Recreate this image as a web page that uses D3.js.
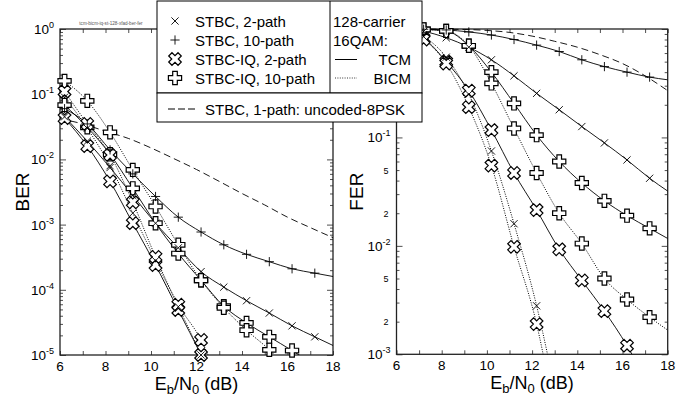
<!DOCTYPE html>
<html lang="en">
<head>
<meta charset="UTF-8">
<title>BER / FER, 128-carrier 16QAM</title>
<script src="https://cdn.jsdelivr.net/npm/d3@7"></script>
<style>
  body { margin: 0; background: #fff; }
  svg { display: block; font-family: "Liberation Sans", Arial, sans-serif; }
</style>
</head>
<body>
<script>
// Eb/N0 where the markers sit; the last entry is where the curves leave the frame
const snr = [6.2, 7.2, 8.2, 9.2, 10.2, 11.2, 12.2, 13.2, 14.2, 15.2, 16.2, 17.2, 18];
const snrUncoded = [6, 7, 8, 9, 10, 11, 12, 13, 14, 15, 16, 17, 18];

// BER (left panel)
const berStbc2Tcm   = [0.045, 0.019, 7.5e-3, 2.8e-3, 1.05e-3, 4.4e-4, 1.9e-4, 1.1e-4, 6.8e-5, 4.4e-5, 2.8e-5, 1.9e-5, 1.4e-5];
const berStbc2Bicm  = [0.09, 0.03, 8e-3, 1.5e-3, 2.8e-4, 5.5e-5, 1e-5, 1.5e-6];
const berStbc10Tcm  = [0.06, 0.035, 0.014, 6e-3, 2.7e-3, 1.3e-3, 7.7e-4, 4.9e-4, 3.5e-4, 2.7e-4, 2.1e-4, 1.8e-4, 1.6e-4];
const berIq2Tcm     = [0.043, 0.016, 4.6e-3, 1.05e-3, 2.4e-4, 4.9e-5, 1e-5, 1.8e-6];
const berIq2Bicm    = [0.11, 0.035, 0.0117, 2.2e-3, 3.2e-4, 5.9e-5, 1.7e-5, 2.5e-6];
const berIq10Tcm    = [0.068, 0.031, 0.012, 3.6e-3, 1.05e-3, 3.6e-4, 1.4e-4, 5.6e-5, 3.1e-5, 1.9e-5, 1.17e-5, 7e-6];
const berIq10Bicm   = [0.16, 0.079, 0.026, 6.9e-3, 1.9e-3, 4.9e-4, 1.4e-4, 5.3e-5, 2.4e-5, 1.2e-5, 5e-6];
const berUncoded    = [0.042, 0.035, 0.027, 0.021, 0.015, 0.0103, 0.007, 0.0046, 0.003, 0.002, 0.0013, 9e-4, 6.3e-4];

// FER (right panel)
const ferStbc2Tcm   = [0.99, 0.95, 0.83, 0.68, 0.52, 0.37, 0.255, 0.18, 0.126, 0.089, 0.062, 0.042, 0.032];
const ferStbc2Bicm  = [0.98, 0.85, 0.55, 0.25, 0.075, 0.016, 0.0028, 3e-4];
const ferStbc10Tcm  = [1.0, 0.995, 0.98, 0.94, 0.88, 0.80, 0.71, 0.62, 0.52, 0.45, 0.40, 0.36, 0.34];
const ferIq2Tcm     = [0.98, 0.82, 0.50, 0.27, 0.117, 0.047, 0.0214, 0.0093, 0.0048, 0.0025, 0.0012, 5e-4];
const ferIq2Bicm    = [0.97, 0.80, 0.48, 0.19, 0.055, 0.0098, 0.0019, 1.6e-4];
const ferIq10Tcm    = [1.0, 0.99, 0.96, 0.70, 0.40, 0.206, 0.105, 0.06, 0.038, 0.026, 0.019, 0.0145, 0.0117];
const ferIq10Bicm   = [1.0, 0.99, 0.96, 0.70, 0.315, 0.121, 0.047, 0.020, 0.0105, 0.005, 0.0032, 0.0022, 0.00167];
const ferUncoded    = [1.0, 1.0, 0.995, 0.99, 0.97, 0.93, 0.86, 0.77, 0.68, 0.58, 0.48, 0.37, 0.27];

const xTicks = [6, 8, 10, 12, 14, 16, 18];
const legendRows = ["STBC, 2-path", "STBC, 10-path", "STBC-IQ, 2-path", "STBC-IQ, 10-path"];
const legendMarkers = ["x", "plus", "bigX", "bigPlus"];

const width = 691, height = 399;
const legendBottom = 122;
const svg = d3.select("body").append("svg")
    .attr("width", width)
    .attr("height", height);

function crossPath(L, a) {
  return `M${-a},${-L}H${a}V${-a}H${L}V${a}H${a}V${L}H${-a}V${a}H${-L}V${-a}H${-a}Z`;
}
const markerShapes = {
  x: "M-3.6,-3.6L3.6,3.6M-3.6,3.6L3.6,-3.6",
  plus: "M-4.6,0H4.6M0,-4.6V4.6",
  bigPlus: crossPath(6.6, 2.3),
  bigX: crossPath(6.6, 2.3)
};
const dashes = { solid: null, dotted: "1,1.4", dashed: "7,4" };

function drawMarker(g, kind, px, py) {
  const p = g.append("path")
      .attr("d", markerShapes[kind])
      .attr("transform", `translate(${px},${py})` + (kind === "bigX" ? " rotate(45)" : ""));
  if (kind === "bigX" || kind === "bigPlus") {
    p.attr("fill", "#fff").attr("stroke", "#000").attr("stroke-width", 1.2);
  } else {
    p.attr("fill", "none").attr("stroke", "#000").attr("stroke-width", 0.9);
  }
}

function panel(cfg) {
  const x = d3.scaleLinear().domain([6, 18]).range(cfg.xr);
  const y = d3.scaleLog().domain(cfg.yd).range(cfg.yr);
  const g = svg.append("g");
  const clipId = "clip-" + cfg.id;
  svg.append("defs").append("clipPath").attr("id", clipId)
    .append("rect")
      .attr("x", cfg.xr[0]).attr("y", cfg.yr[1] - 1)
      .attr("width", cfg.xr[1] - cfg.xr[0]).attr("height", cfg.yr[0] - cfg.yr[1] + 1);

  // ticks, pointing inwards on all four sides
  const decades = d3.range(Math.log10(cfg.yd[0]), 1).map(e => Math.pow(10, e));
  const minors = [];
  decades.slice(0, -1).forEach(d => { for (let k = 2; k < 10; k++) minors.push(d * k); });
  const tickStyle = s => s.call(a => a.select(".domain").remove())
      .selectAll("line").attr("stroke", "#222").attr("stroke-width", 0.8);

  g.append("g").attr("transform", `translate(0,${cfg.yr[0]})`)
    .call(d3.axisBottom(x).tickValues(d3.range(6, 19)).tickSize(-4).tickFormat("")).call(tickStyle);
  g.append("g").attr("transform", `translate(0,${cfg.yr[1]})`)
    .call(d3.axisTop(x).tickValues(d3.range(6, 19)).tickSize(-4).tickFormat("")).call(tickStyle);
  g.append("g").attr("transform", `translate(${cfg.xr[0]},0)`)
    .call(d3.axisLeft(y).tickValues(decades).tickSize(-6).tickFormat("")).call(tickStyle);
  g.append("g").attr("transform", `translate(${cfg.xr[0]},0)`)
    .call(d3.axisLeft(y).tickValues(minors).tickSize(-3).tickFormat("")).call(tickStyle);
  g.append("g").attr("transform", `translate(${cfg.xr[1]},0)`)
    .call(d3.axisRight(y).tickValues(decades).tickSize(-6).tickFormat("")).call(tickStyle);
  g.append("g").attr("transform", `translate(${cfg.xr[1]},0)`)
    .call(d3.axisRight(y).tickValues(minors).tickSize(-3).tickFormat("")).call(tickStyle);

  // x tick labels
  g.append("g").selectAll("text").data(xTicks).join("text")
      .attr("x", d => x(d)).attr("y", cfg.yr[0] + 15.5)
      .attr("text-anchor", "middle").attr("font-size", 13.5)
      .text(d => d);

  // labels that would sit under the legend box are left out (hidden there in the original)
  const visible = v => !cfg.hideUnderLegend || y(v) > legendBottom + 6;

  // y tick labels: decades as 10^n
  const yl = g.append("g").selectAll("text").data(decades.filter(visible)).join("text")
      .attr("x", cfg.xr[0] - 6).attr("y", d => y(d) + 5)
      .attr("text-anchor", "end").attr("font-size", 13.5);
  yl.append("tspan").text("10");
  yl.append("tspan").attr("dy", -6).attr("font-size", 9).text(d => Math.round(Math.log10(d)));
  if (cfg.minorLabels) {
    const mant = v => Math.round(v / Math.pow(10, Math.floor(Math.log10(v) + 1e-9)));
    g.append("g").selectAll("text")
      .data(minors.filter(v => (mant(v) === 2 || mant(v) === 5) && visible(v)))
      .join("text")
        .attr("x", cfg.xr[0] - 8).attr("y", d => y(d) + 3.5)
        .attr("text-anchor", "end").attr("font-size", 9)
        .text(d => mant(d));
  }

  // frame
  g.append("rect")
      .attr("x", cfg.xr[0]).attr("y", cfg.yr[1])
      .attr("width", cfg.xr[1] - cfg.xr[0]).attr("height", cfg.yr[0] - cfg.yr[1])
      .attr("fill", "none").attr("stroke", "#222").attr("stroke-width", 1.3);

  // axis titles
  const xt = g.append("text")
      .attr("x", (cfg.xr[0] + cfg.xr[1]) / 2).attr("y", cfg.yr[0] + 34.5)
      .attr("text-anchor", "middle").attr("font-size", 18);
  xt.append("tspan").text("E");
  xt.append("tspan").attr("dy", 4).attr("font-size", 13).text("b");
  xt.append("tspan").attr("dy", -4).text("/N");
  xt.append("tspan").attr("dy", 4).attr("font-size", 13).text("0");
  xt.append("tspan").attr("dy", -4).text(" (dB)");
  g.append("text")
      .attr("transform", `translate(${cfg.titleX},${(cfg.yr[0] + cfg.yr[1]) / 2}) rotate(-90)`)
      .attr("text-anchor", "middle").attr("font-size", 19)
      .text(cfg.yTitle);

  // curves
  const lines = g.append("g").attr("clip-path", `url(#${clipId})`);
  const line = d3.line()
      .defined(d => d[1] != null)
      .x(d => x(d[0])).y(d => y(d[1]))
      .curve(d3.curveMonotoneX);
  cfg.series.forEach(s => {
    const pts = s.values.map((v, i) => [s.xs[i], v]);
    lines.append("path")
        .attr("d", line(pts))
        .attr("fill", "none")
        .attr("stroke", "#000")
        .attr("stroke-width", s.dash === "dotted" ? 1 : 0.9)
        .attr("stroke-dasharray", dashes[s.dash]);
  });
  const marks = g.append("g");
  const order = ["bigPlus", "bigX", "plus", "x"];
  order.forEach(kind => {
    cfg.series.filter(s => s.marker === kind).forEach(s => {
      s.values.forEach((v, i) => {
        if (i >= 12 || v == null) return;
        if (v < cfg.yd[0] || v > cfg.yd[1] * 1.01) return;
        drawMarker(marks, kind, x(s.xs[i]), y(v));
      });
    });
  });
}

panel({
  id: "ber", xr: [60, 333], yr: [355, 29], yd: [1e-5, 1], yTitle: "BER", titleX: 28.5,
  series: [
    { xs: snrUncoded, values: berUncoded, dash: "dashed", marker: null },
    { xs: snr, values: berStbc2Tcm, dash: "solid", marker: "x" },
    { xs: snr, values: berStbc2Bicm, dash: "dotted", marker: "x" },
    { xs: snr, values: berStbc10Tcm, dash: "solid", marker: "plus" },
    { xs: snr, values: berIq2Tcm, dash: "solid", marker: "bigX" },
    { xs: snr, values: berIq2Bicm, dash: "dotted", marker: "bigX" },
    { xs: snr, values: berIq10Tcm, dash: "solid", marker: "bigPlus" },
    { xs: snr, values: berIq10Bicm, dash: "dotted", marker: "bigPlus" }
  ]
});

panel({
  id: "fer", xr: [396.5, 667.7], yr: [354.3, 29], yd: [1e-3, 1], yTitle: "FER", titleX: 363,
  minorLabels: true, hideUnderLegend: true,
  series: [
    { xs: snrUncoded, values: ferUncoded, dash: "dashed", marker: null },
    { xs: snr, values: ferStbc2Tcm, dash: "solid", marker: "x" },
    { xs: snr, values: ferStbc2Bicm, dash: "dotted", marker: "x" },
    { xs: snr, values: ferStbc10Tcm, dash: "solid", marker: "plus" },
    { xs: snr, values: ferIq2Tcm, dash: "solid", marker: "bigX" },
    { xs: snr, values: ferIq2Bicm, dash: "dotted", marker: "bigX" },
    { xs: snr, values: ferIq10Tcm, dash: "solid", marker: "bigPlus" },
    { xs: snr, values: ferIq10Bicm, dash: "dotted", marker: "bigPlus" }
  ]
});

// tiny file tag above the left panel
svg.append("text")
    .attr("x", 111).attr("y", 25)
    .attr("text-anchor", "middle").attr("font-size", 4.6).attr("fill", "#555")
    .text("tcm-bicm-iq-st-128-xfad-ber-fer");

// legend
const leg = svg.append("g").attr("font-size", 15);
leg.append("rect").attr("x", 157).attr("y", 1).attr("width", 265).attr("height", 92)
    .attr("fill", "#fff").attr("stroke", "#000").attr("stroke-width", 1);
leg.append("rect").attr("x", 157).attr("y", 93).attr("width", 265).attr("height", legendBottom - 93)
    .attr("fill", "#fff").attr("stroke", "#000").attr("stroke-width", 1);
leg.append("line").attr("x1", 330).attr("x2", 330).attr("y1", 1).attr("y2", 93)
    .attr("stroke", "#000").attr("stroke-width", 1);

const rowY = d3.scalePoint().domain(legendRows).range([21, 78]);
legendRows.forEach((name, i) => {
  drawMarker(leg, legendMarkers[i], 175, rowY(name));
  leg.append("text").attr("x", 195).attr("y", rowY(name) + 5.5).text(name);
});
leg.append("text").attr("x", 333).attr("y", 26.5).text("128-carrier");
leg.append("text").attr("x", 333).attr("y", 46).text("16QAM:");
[["TCM", "solid", 59.5], ["BICM", "dotted", 78]].forEach(([t, dash, yy]) => {
  leg.append("line").attr("x1", 335).attr("x2", 357).attr("y1", yy).attr("y2", yy)
      .attr("stroke", "#000").attr("stroke-width", dash === "dotted" ? 0.8 : 1)
      .attr("stroke-dasharray", dashes[dash]);
  leg.append("text").attr("x", 411).attr("y", yy + 5.5).attr("text-anchor", "end").text(t);
});
leg.append("line").attr("x1", 168).attr("x2", 196).attr("y1", 109).attr("y2", 109)
    .attr("stroke", "#000").attr("stroke-width", 1).attr("stroke-dasharray", "7,3");
leg.append("text").attr("x", 205).attr("y", 114.5).text("STBC, 1-path: uncoded-8PSK");
</script>
</body>
</html>
